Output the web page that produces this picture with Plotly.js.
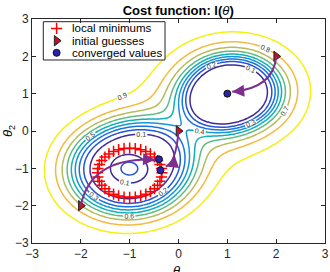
<!DOCTYPE html>
<html>
<head>
<meta charset="utf-8">
<script src="https://cdn.plot.ly/plotly-3.0.1.min.js"></script>
<style>
html,body{margin:0;padding:0;background:#fff;}
#chart{width:330px;height:272px;}
</style>
</head>
<body>
<div id="chart"></div>
<script>
// ---- data ----
// cost surface l(theta): two basins; profile = [steep weight, steep half-dist, steep power, broad half-dist, broad power]
const upperCenter = [1.07, 1.02];
const lowerCenter = [-1, -1];
const upperProfile = [0.6, 0.97, 8, 1.3, 5];
const lowerProfile = [1.0, 1.21, 5.8, 1.0, 1];
const diagStretch = [1.1, 1.0, 0.97]; // stretch toward the other basin, away from it, across the diagonal
const ringBump = [0.25, 0.179];       // height, width of the bump inside the ring of minima
const levels = [0.1, 0.9, 0.1];       // start, end, step
const levelColors = ['#3e2a9c','#2454d8','#1a74e0','#1597d2','#10b0b8','#5cbd82','#b9bb5a','#f5b93c','#f4f013'];

// local minimums (ring)
const minX = [-0.34,-0.35,-0.38,-0.428,-0.494,-0.576,-0.67,-0.774,-0.885,-1.0,-1.115,-1.226,-1.33,-1.424,-1.506,-1.572,-1.62,-1.65,-1.66,-1.65,-1.62,-1.572,-1.506,-1.424,-1.33,-1.226,-1.115,-1.0,-0.885,-0.774,-0.67,-0.576,-0.494,-0.428,-0.38,-0.35];
const minY = [-1.12,-1.005,-0.894,-0.79,-0.696,-0.614,-0.548,-0.5,-0.47,-0.46,-0.47,-0.5,-0.548,-0.614,-0.696,-0.79,-0.894,-1.005,-1.12,-1.235,-1.346,-1.45,-1.544,-1.626,-1.692,-1.74,-1.77,-1.78,-1.77,-1.74,-1.692,-1.626,-1.544,-1.45,-1.346,-1.235];
// initial guesses and converged values
const initX = [2, 0, -2];
const initY = [2, 0, -2];
const convX = [1, -0.37, -0.40];
const convY = [1, -1.05, -0.76];
// arrow curve control points and arrow tips
const ctrlX = [1.95, -0.05, -1.8];
const ctrlY = [1.15, -0.85, -0.7];
const tipX = [1.1, -0.26, -0.48];
const tipY = [1.05, -0.95, -0.77];
// legend
const legendLabels = ['local minimums', 'initial guesses', 'converged values'];
const titleText = '<b>Cost function: l(</b><i>θ</i><b>)</b>';

// ---- surface ----
const gx = [], gy = [];
for (let i = 0; i <= 120; i++) { gx.push(-3 + i * 0.05); gy.push(-3 + i * 0.05); }
function depth(x, y, c, p, towardSign) {
  const dx = x - c[0], dy = y - c[1];
  let u = (dx + dy) / Math.SQRT2;
  u /= (u * towardSign > 0) ? diagStretch[0] : diagStretch[1];
  const v = (dy - dx) / Math.SQRT2 / diagStretch[2];
  const d = Math.hypot(u, v);
  return p[0] / (1 + Math.pow(d / p[1], p[2])) + (1 - p[0]) / (1 + Math.pow(d / p[3], p[4]));
}
function cost(x, y) {
  const r = Math.hypot(x - lowerCenter[0], y - lowerCenter[1]);
  const bump = ringBump[0] * Math.exp(-r * r / ringBump[1]);
  return 1 - depth(x, y, upperCenter, upperProfile, -1) - depth(x, y, lowerCenter, lowerProfile, 1) + bump;
}
const gz = gy.map(y => gx.map(x => cost(x, y)));

const cs = levelColors.map((c, i) => [i / (levelColors.length - 1), c]);
const purple = '#7e2f8e';
const legendMarkers = [
  {symbol:'cross-thin', size:8, line:{color:'#ff0000', width:1.5}},
  {symbol:'triangle-right', size:9, color:'#c0121e', line:{color:'#222', width:1}},
  {symbol:'circle', size:7, color:'#2424b0', line:{color:'#111', width:1}}
];
// legend geometry in paper fractions
const lgBox = [0.0386, 0.454, 0.817, 0.988];
const lgRows = [0.958, 0.903, 0.849];
const lgSymX = 0.084, lgTextX = 0.128;

const traces = [
  {type:'contour', x:gx, y:gy, z:gz, zmin:levels[0], zmax:levels[1], zauto:false,
   colorscale:cs, showscale:false, hoverinfo:'skip', showlegend:false,
   contours:{coloring:'lines', start:levels[0], end:levels[1], size:levels[2],
             showlabels:true, labelfont:{size:7, color:'#333', family:'Liberation Sans, Arial'}, labelformat:'.1f'},
   line:{width:1.5, smoothing:1}},
  {type:'scatter', mode:'markers', x:minX, y:minY, name:legendLabels[0], showlegend:false, marker:legendMarkers[0]},
  {type:'scatter', mode:'markers', x:initX, y:initY, name:legendLabels[1], showlegend:false, marker:legendMarkers[1]},
  {type:'scatter', mode:'markers', x:convX, y:convY, name:legendLabels[2], showlegend:false, marker:legendMarkers[2]},
  {type:'scatter', mode:'lines', xaxis:'x2', yaxis:'y2', showlegend:false, hoverinfo:'skip',
   x:[lgBox[0], lgBox[1], lgBox[1], lgBox[0], lgBox[0]], y:[lgBox[2], lgBox[2], lgBox[3], lgBox[3], lgBox[2]],
   fill:'toself', fillcolor:'#fff', line:{color:'#262626', width:1}},
].concat(legendLabels.map((n, i) => ({type:'scatter', mode:'markers', xaxis:'x2', yaxis:'y2', showlegend:false,
   hoverinfo:'skip', x:[lgSymX], y:[lgRows[i]], marker:legendMarkers[i], cliponaxis:false})));

const shapes = initX.map((x0, i) => ({
  type:'path', xref:'x', yref:'y',
  path:`M${x0},${initY[i]} Q${ctrlX[i]},${ctrlY[i]} ${tipX[i]},${tipY[i]}`,
  line:{color:purple, width:2}
}));
const annotations = tipX.map((tx, i) => {
  const dx = tx - ctrlX[i], dy = tipY[i] - ctrlY[i];
  const n = Math.hypot(dx, dy);
  return {x:tx, y:tipY[i], ax:tx - 0.12 * dx / n, ay:tipY[i] - 0.12 * dy / n,
    xref:'x', yref:'y', axref:'x', ayref:'y', text:'', showarrow:true,
    arrowhead:2, arrowsize:1.2, arrowwidth:2, arrowcolor:purple, standoff:0};
}).concat(legendLabels.map((t, i) => ({
  xref:'paper', yref:'paper', x:lgTextX, y:lgRows[i], xanchor:'left', yanchor:'middle', showarrow:false,
  text:t, font:{size:11.5, color:'#000', family:'Liberation Sans, Arial'}
}))).concat([{
  xref:'paper', yref:'paper', x:0.5, y:-0.080, xanchor:'center', yanchor:'top', showarrow:false,
  text:'<i>θ</i><sub>1</sub>', font:{size:13, color:'#000', family:'Liberation Sans, Arial'}
}]);

const axisCommon = {range:[-3,3], dtick:1, tick0:-3, ticks:'inside', ticklen:4, tickcolor:'#262626',
  showline:true, linecolor:'#262626', linewidth:1, mirror:'ticks', showgrid:false, zeroline:false,
  tickfont:{size:12, color:'#262626', family:'Liberation Sans, Arial'}};

const layout = {
  width:330, height:272, margin:{l:32, r:5, t:19, b:29},
  paper_bgcolor:'#fff', plot_bgcolor:'#fff',
  font:{family:'Liberation Sans, Arial', color:'#000'},
  title:{text:titleText, x:0.54, xanchor:'center', y:0.963, yanchor:'middle', font:{size:13, color:'#000'}},
  xaxis:axisCommon,
  yaxis:Object.assign({}, axisCommon, {title:{text:'<i>θ</i><sub>2</sub>', standoff:8, font:{size:13}}}),
  xaxis2:{overlaying:'x', range:[0,1], visible:false, fixedrange:true},
  yaxis2:{overlaying:'y', range:[0,1], visible:false, fixedrange:true},
  shapes:shapes, annotations:annotations, showlegend:false
};

Plotly.newPlot('chart', traces, layout, {displayModeBar:false, staticPlot:true});
</script>
</body>
</html>
